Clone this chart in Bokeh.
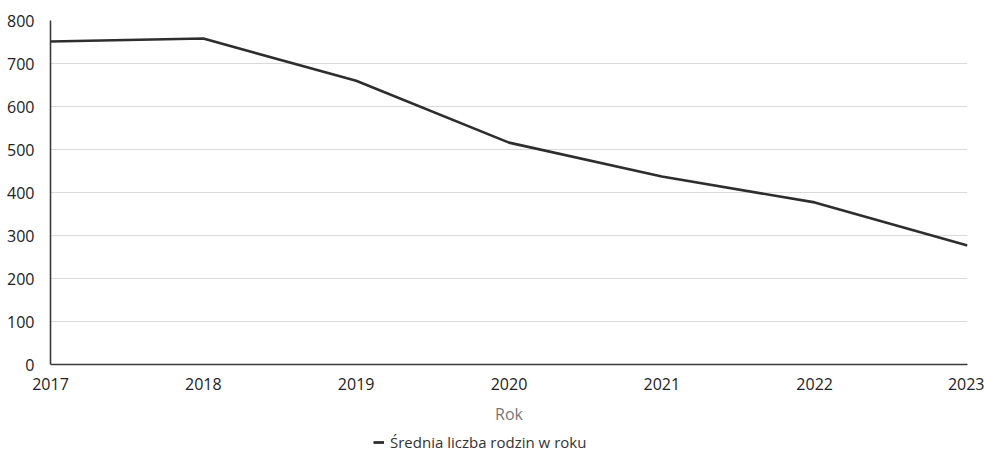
from bokeh.plotting import figure
from bokeh.layouts import column
from bokeh.models import Range1d, Legend, LegendItem, FixedTicker
from bokeh.embed import file_html
from bokeh.resources import INLINE

years = [2017, 2018, 2019, 2020, 2021, 2022, 2023]
values = [751, 758, 660, 516, 437, 377, 277]
y_ticks = [0, 100, 200, 300, 400, 500, 600, 700, 800]
series_name = "Średnia liczba rodzin w roku"

FONT = "Open Sans"
LINE_COLOR = "#2e2e2e"
W = 984

p = figure(width=W, height=427, output_backend="svg", toolbar_location=None,
           x_range=Range1d(2017, 2023), y_range=Range1d(0, 800),
           min_border_left=50, min_border_right=17, min_border_top=20,
           min_border_bottom=63)
p.outline_line_color = None
p.background_fill_color = "white"
p.border_fill_color = "white"

p.line(years, values, line_color=LINE_COLOR, line_width=2.6)

p.xaxis.ticker = FixedTicker(ticks=years)
p.yaxis.ticker = FixedTicker(ticks=y_ticks)
for ax in (p.xaxis[0], p.yaxis[0]):
    ax.major_tick_line_color = None
    ax.minor_tick_line_color = None
    ax.axis_line_color = "#3a3a3a"
    ax.axis_line_width = 1.6
    ax.major_label_text_font = FONT
    ax.major_label_text_font_size = "16px"
    ax.major_label_text_color = "#222222"
p.xaxis.major_label_standoff = 7
p.yaxis.major_label_standoff = 10
p.xaxis.axis_label = "Rok"
p.xaxis.axis_label_text_font = FONT
p.xaxis.axis_label_text_font_size = "16px"
p.xaxis.axis_label_text_font_style = "normal"
p.xaxis.axis_label_text_color = "#777777"
p.xaxis.axis_label_standoff = 10

p.xgrid.grid_line_color = None
p.ygrid.grid_line_color = "#dadada"
p.ygrid.grid_line_width = 1

# legend strip below the chart (its frame is aligned with the chart's frame)
lg = figure(width=W, height=25, output_backend="svg", toolbar_location=None,
            x_range=Range1d(0, 1), y_range=Range1d(0, 1),
            x_axis_location=None, y_axis_location=None,
            min_border=0, min_border_left=0, min_border_right=0,
            min_border_top=0, min_border_bottom=0)
lg.outline_line_color = None
lg.grid.visible = False
lg.border_fill_color = "white"
# legend-only renderer, drawn outside the visible range
dummy = lg.line(x=[-5, -4], y=[-5, -5], line_color=LINE_COLOR, line_width=2.8)

legend = Legend(items=[LegendItem(label=series_name, renderers=[dummy])],
                location=(323, 0), orientation="horizontal",
                border_line_color=None, background_fill_alpha=0,
                padding=0, margin=0, spacing=0,
                glyph_width=11, glyph_height=18, label_height=18,
                label_standoff=6,
                label_text_font=FONT, label_text_font_size="15px",
                label_text_color="#333333")
lg.add_layout(legend, "center")

layout = column(p, lg, spacing=0)
open("out.html", "w").write(file_html(layout, INLINE))
